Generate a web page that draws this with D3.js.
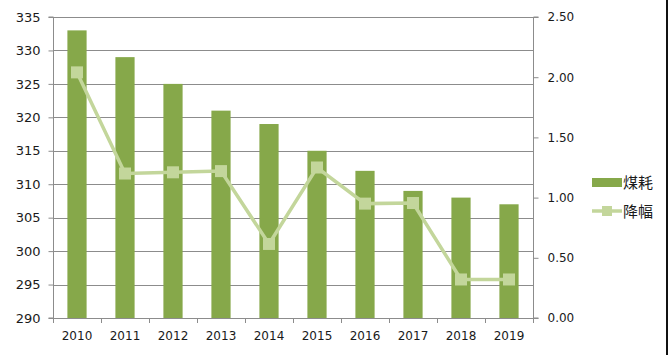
<!DOCTYPE html>
<html><head><meta charset="utf-8">
<script src="https://cdn.jsdelivr.net/npm/d3@7"></script>
<style>
html,body{margin:0;padding:0;background:#fff;}
svg{display:block;font-family:"Liberation Sans","DejaVu Sans",sans-serif;}
</style></head>
<body>
<svg id="chart" width="668" height="355"></svg>
<script>
const years = ["2010","2011","2012","2013","2014","2015","2016","2017","2018","2019"];
const coal = [333, 329, 325, 321, 319, 315, 312, 309, 308, 307];
const drop = [2.04, 1.20, 1.21, 1.22, 0.615, 1.25, 0.95, 0.955, 0.32, 0.32];
const leftTicks = [290, 295, 300, 305, 310, 315, 320, 325, 330, 335];
const rightTicks = [0, 0.5, 1.0, 1.5, 2.0, 2.5];
const seriesNames = ["煤耗", "降幅"];

const svg = d3.select("#chart");
const L = 53, R = 533, T = 17, B = 318;
const barColor = "#86a84a", lineColor = "#c3d69b", gridColor = "#8c8c8c";

const x = d3.scaleBand().domain(years).range([L, R]).paddingInner(0.6).paddingOuter(0.3);
const xb = d3.scaleBand().domain(years).range([L, R]);
const yL = d3.scaleLinear().domain([290, 335]).range([B, T]);
const yR = d3.scaleLinear().domain([0, 2.5]).range([B, T]);

// gridlines
svg.append("g").selectAll("line").data(leftTicks.slice(1)).join("line")
  .attr("x1", L).attr("x2", R)
  .attr("y1", d => Math.round(yL(d)) + 0.5).attr("y2", d => Math.round(yL(d)) + 0.5)
  .attr("stroke", gridColor).attr("stroke-width", 1);

// bars
svg.append("g").selectAll("rect").data(years).join("rect")
  .attr("x", d => xb(d) + xb.bandwidth() * 0.3)
  .attr("width", xb.bandwidth() * 0.4)
  .attr("y", (d, i) => yL(coal[i]))
  .attr("height", (d, i) => B - yL(coal[i]))
  .attr("fill", barColor);

// left axis
const gl = svg.append("g").attr("transform", `translate(${L + 0.5},0)`)
  .call(d3.axisLeft(yL).tickValues(leftTicks).tickSize(5).tickPadding(8).tickFormat(d3.format("d")));
gl.selectAll("line").attr("stroke", gridColor);
gl.select(".domain").attr("stroke", gridColor).attr("d", `M-5,${T}H0V${B}H-5`);
gl.selectAll("text").attr("font-size", 13).attr("fill", "#1a1a1a").attr("font-family", "'DejaVu Sans',sans-serif");

// right axis
const gr = svg.append("g").attr("transform", `translate(${R + 0.5},0)`)
  .call(d3.axisRight(yR).tickValues(rightTicks).tickSize(5).tickPadding(9).tickFormat(d3.format(".2f")));
gr.selectAll("line").attr("stroke", gridColor);
gr.select(".domain").attr("stroke", gridColor).attr("d", `M5,${T}H0V${B}H5`);
gr.selectAll("text").attr("font-size", 12).attr("fill", "#1a1a1a").attr("font-family", "'DejaVu Sans',sans-serif");

// bottom axis
const gb = svg.append("g").attr("transform", `translate(0,${B + 0.5})`)
  .call(d3.axisBottom(xb).tickSize(0).tickPadding(13));
gb.select(".domain").attr("stroke", gridColor).attr("d", `M${L},0H${R}`);
gb.selectAll("text").attr("font-size", 12).attr("fill", "#1a1a1a").attr("font-family", "'DejaVu Sans',sans-serif");
svg.append("g").selectAll("line").data(years.concat(["end"])).join("line")
  .attr("x1", (d, i) => Math.round(L + i * xb.bandwidth()) + 0.5)
  .attr("x2", (d, i) => Math.round(L + i * xb.bandwidth()) + 0.5)
  .attr("y1", B).attr("y2", B + 5)
  .attr("stroke", gridColor);

// line
const line = d3.line().x((d, i) => xb(years[i]) + xb.bandwidth() / 2).y(d => yR(d));
svg.append("path").datum(drop).attr("d", line)
  .attr("fill", "none").attr("stroke", lineColor).attr("stroke-width", 3.5);
svg.append("g").selectAll("rect").data(drop).join("rect")
  .attr("x", (d, i) => xb(years[i]) + xb.bandwidth() / 2 - 6)
  .attr("y", d => yR(d) - 6)
  .attr("width", 12).attr("height", 12)
  .attr("fill", lineColor);

// legend
const lg = svg.append("g");
lg.append("rect").attr("x", 592).attr("y", 178).attr("width", 30).attr("height", 9).attr("fill", barColor);
lg.append("text").attr("x", 623).attr("y", 188).text(seriesNames[0])
  .attr("font-size", 15).attr("fill", "#1a1a1a").attr("font-family", "'Noto Sans CJK SC',sans-serif");
lg.append("line").attr("x1", 592).attr("x2", 622).attr("y1", 211).attr("y2", 211)
  .attr("stroke", lineColor).attr("stroke-width", 3.5);
lg.append("rect").attr("x", 602).attr("y", 206).attr("width", 10).attr("height", 10).attr("fill", lineColor);
lg.append("text").attr("x", 623).attr("y", 217).text(seriesNames[1])
  .attr("font-size", 15).attr("fill", "#1a1a1a").attr("font-family", "'Noto Sans CJK SC',sans-serif");

// right border
svg.append("rect").attr("x", 666).attr("y", 0).attr("width", 2).attr("height", 355).attr("fill", "#111");
</script>
</body></html>
